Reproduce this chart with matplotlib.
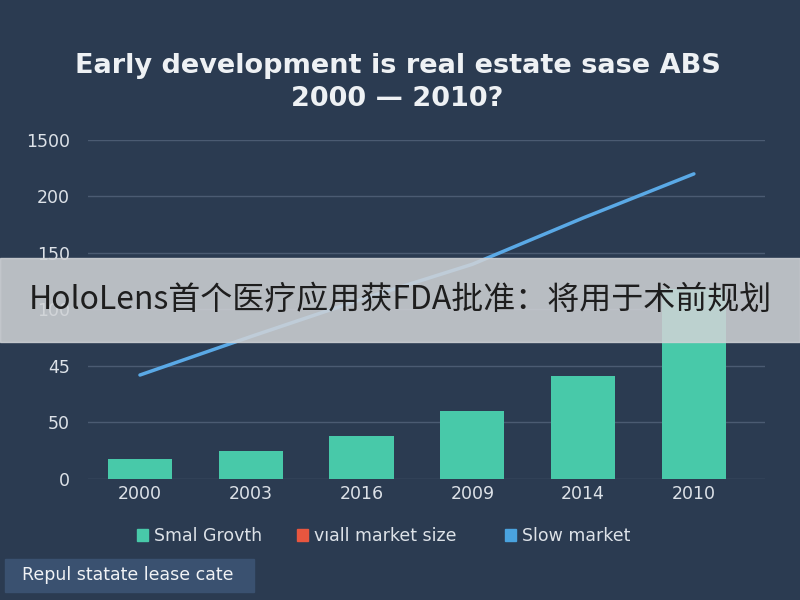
import numpy as np
import matplotlib.pyplot as plt
from matplotlib.patches import Rectangle

# data
years = ["2000", "2003", "2016", "2009", "2014", "2010"]
bar_values = [18, 25, 38, 60, 91, 168]
line_values = [92, 126, 159, 190, 231, 270]
tick_values = [0, 50, 100, 150, 200, 250, 300]
tick_labels = ["0", "50", "45", "100", "150", "200", "1500"]
legend_labels = ["Smal Grovth", "vıall market size", "Slow market"]
legend_colors = ["#48c9a9", "#e8563f", "#4aa3df"]

bg = "#2b3b51"
text_col = "#dde2e8"

plt.rcParams['font.family'] = ['DejaVu Sans']

fig = plt.figure(figsize=(8, 6), dpi=100, facecolor=bg)
ax = fig.add_axes([0.11, 0.2017, 0.846, 0.565], facecolor=bg)

x = np.arange(len(years))
ax.bar(x, bar_values, width=0.58, color="#48c9a9", zorder=2)
ax.plot(x, line_values, color="#5aa9e6", lw=2.5, zorder=3, solid_capstyle="round")

ax.set_xlim(-0.469, 5.64)
ax.set_ylim(0, 300)
ax.set_yticks(tick_values)
ax.set_yticklabels(tick_labels)
ax.set_xticks(x)
ax.set_xticklabels(years)
ax.grid(axis="y", color="#4b5b72", lw=1, zorder=0)
ax.tick_params(colors=text_col, labelsize=12.5, length=0)
ax.tick_params(axis="y", pad=13)
ax.tick_params(axis="x", pad=4)
for s in ax.spines.values():
    s.set_visible(False)

fig.text(0.497, 0.862, "Early development is real estate sase ABS\n2000 \u2014 2010?",
         ha="center", va="center", color="#eef1f4", fontsize=19.5, fontweight="semibold",
         linespacing=1.35)

# legend row
lx = [0.171, 0.371, 0.631]
for xi, lab, col in zip(lx, legend_labels, legend_colors):
    fig.patches.append(Rectangle((xi, 0.099), 0.014, 0.019, transform=fig.transFigure,
                                 color=col, figure=fig))
    fig.text(xi + 0.022, 0.107, lab, color=text_col, fontsize=12.5, va="center")

# bottom-left note box
fig.patches.append(Rectangle((0.006, 0.013), 0.312, 0.055, transform=fig.transFigure,
                             color="#3a5170", figure=fig))
fig.text(0.027, 0.041, "Repul statate lease cate", color="#f0f2f5", fontsize=12.5,
         va="center")

# overlay banner
fig.patches.append(Rectangle((0, 0.43), 1, 0.14, transform=fig.transFigure,
                             color="#d0d3d6", alpha=0.86, zorder=10, figure=fig))
fig.text(0.5, 0.5, "HoloLens首个医疗应用获FDA批准：将用于术前规划", ha="center", va="center",
         fontsize=23, color="#1e1e1e", zorder=11,
         family=["Noto Sans CJK SC", "DejaVu Sans"])

fig.savefig("out.png", dpi=100, facecolor=bg)
